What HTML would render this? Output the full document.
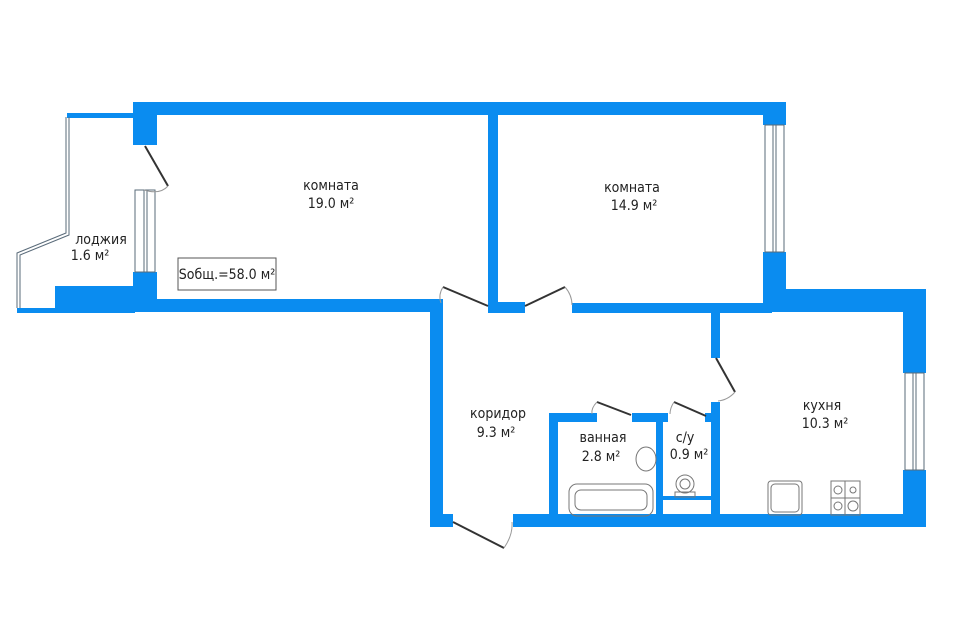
<!DOCTYPE html>
<html><head><meta charset="utf-8"><style>
html,body{margin:0;padding:0;background:#fff;width:960px;height:640px;overflow:hidden}
svg text{font-family:"DejaVu Sans Condensed","Liberation Sans",sans-serif;fill:#222;font-size:14px;text-anchor:middle}
</style></head><body>
<svg width="960" height="640" viewBox="0 0 960 640" xmlns="http://www.w3.org/2000/svg">
<g fill="#0a8cf0">
<rect x="133" y="102" width="653" height="13"/>
<rect x="133" y="102" width="24" height="43"/>
<rect x="133" y="272" width="24" height="40"/>
<rect x="67" y="113" width="66" height="5"/>
<rect x="17" y="308" width="40" height="5"/>
<rect x="55" y="286" width="80" height="27"/>
<rect x="133" y="299" width="310" height="13"/>
<rect x="488" y="115" width="10" height="198"/>
<rect x="488" y="302" width="37" height="11"/>
<rect x="572" y="303" width="200" height="10"/>
<rect x="763" y="102" width="23" height="23"/>
<rect x="763" y="252" width="23" height="60"/>
<rect x="763" y="289" width="163" height="23"/>
<rect x="903" y="289" width="23" height="84"/>
<rect x="903" y="470" width="23" height="57"/>
<rect x="430" y="302" width="13" height="225"/>
<rect x="430" y="514" width="23" height="13"/>
<rect x="513" y="514" width="413" height="13"/>
<rect x="711" y="312" width="9" height="46"/>
<rect x="711" y="402" width="9" height="125"/>
<rect x="549" y="413" width="9" height="114"/>
<rect x="549" y="413" width="48" height="9"/>
<rect x="632" y="413" width="36" height="9"/>
<rect x="656" y="413" width="7" height="114"/>
<rect x="705" y="413" width="15" height="9"/>
<rect x="663" y="496" width="48" height="4"/>
</g>
<g fill="none" stroke="#5a6b7a" stroke-width="1">
<rect x="135" y="190" width="20" height="82"/>
<line x1="144" y1="190" x2="144" y2="272"/><line x1="147" y1="190" x2="147" y2="272"/>
<rect x="765" y="125" width="19" height="127"/>
<line x1="773" y1="125" x2="773" y2="252"/><line x1="776" y1="125" x2="776" y2="252"/>
<rect x="905" y="373" width="19" height="97"/>
<line x1="913" y1="373" x2="913" y2="470"/><line x1="916" y1="373" x2="916" y2="470"/>
<polyline points="66,117 66,233 17,253 17,308"/>
<polyline points="69,117 69,235 20,255 20,308"/>
</g>
<g fill="none" stroke="#333" stroke-width="2">
<line x1="145" y1="146" x2="168" y2="186"/>
<line x1="443" y1="287" x2="488" y2="306"/>
<line x1="525" y1="306" x2="565" y2="287"/>
<line x1="716" y1="358" x2="735" y2="392"/>
<line x1="597" y1="402" x2="631" y2="415"/>
<line x1="674" y1="402" x2="706" y2="416"/>
<line x1="453" y1="522" x2="504" y2="548"/>
</g>
<g fill="none" stroke="#999" stroke-width="1">
<path d="M168 186 Q160 195 144 190"/>
<path d="M443 287 Q438 295 441 303"/>
<path d="M565 287 Q572 295 572 305"/>
<path d="M735 392 Q728 400 718 401"/>
<path d="M597 402 Q591 408 592 414"/>
<path d="M674 402 Q670 408 670 414"/>
<path d="M504 548 Q513 535 512 522"/>
</g>
<g fill="none" stroke="#777" stroke-width="1">
<rect x="569" y="484" width="84" height="32" rx="8"/>
<rect x="575" y="490" width="72" height="20" rx="6"/>
<ellipse cx="646" cy="459" rx="10" ry="12"/>
<circle cx="685" cy="484" r="9"/><circle cx="685" cy="484" r="5"/>
<rect x="675" y="492" width="20" height="5"/>
<rect x="768" y="481" width="34" height="34" rx="3"/>
<rect x="771" y="484" width="28" height="28" rx="4"/>
<rect x="831" y="481" width="29" height="34"/>
<line x1="845" y1="481" x2="845" y2="515"/><line x1="831" y1="498" x2="860" y2="498"/>
<circle cx="838" cy="490" r="4"/><circle cx="853" cy="490" r="3"/>
<circle cx="838" cy="506" r="4"/><circle cx="853" cy="506" r="5"/>
</g>
<rect x="178" y="258" width="98" height="32" fill="#fff" stroke="#555"/>
<text x="227" y="279" font-size="14">Sобщ.=58.0 м²</text>
<text x="331" y="190">комната</text><text x="331" y="208">19.0 м²</text>
<text x="632" y="192">комната</text><text x="634" y="210">14.9 м²</text>
<text x="101" y="244">лоджия</text><text x="90" y="260">1.6 м²</text>
<text x="498" y="418">коридор</text><text x="496" y="437">9.3 м²</text>
<text x="603" y="442">ванная</text><text x="601" y="461">2.8 м²</text>
<text x="685" y="442">с/у</text><text x="689" y="459">0.9 м²</text>
<text x="822" y="410">кухня</text><text x="825" y="428">10.3 м²</text>
</svg>
</body></html>
